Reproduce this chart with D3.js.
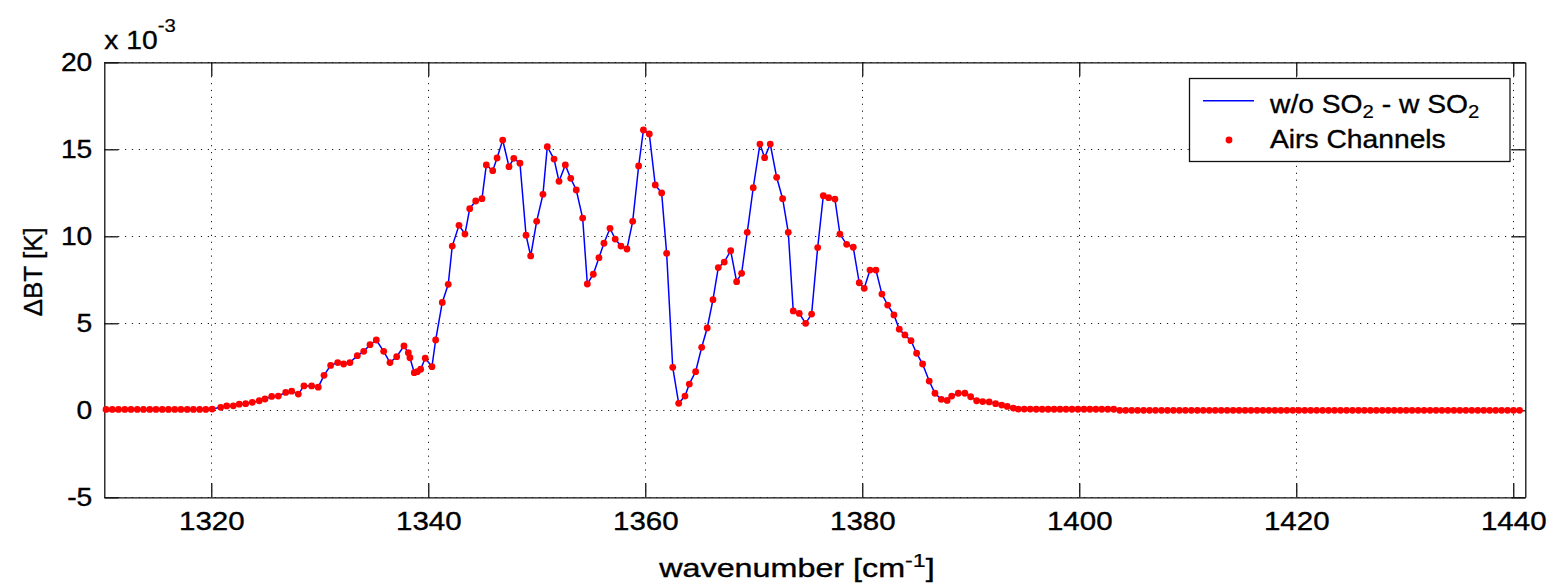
<!DOCTYPE html>
<html><head><meta charset="utf-8">
<script src="https://cdn.jsdelivr.net/npm/d3@7"></script>
<style>
body{margin:0;background:#fff;}
text{font-family:"Liberation Sans",Arial,Helvetica,sans-serif;fill:#000;stroke:#000;stroke-width:0.35px;}
</style>
</head><body>
<svg id="chart" width="1547" height="585"></svg>
<script>
// AIRS channel wavenumbers [cm^-1]
const wavenumbers = [
  1310.30,1310.88,1311.45,1312.03,1312.60,1313.18,1313.75,1314.33,1314.90,1315.48,
  1316.05,1316.63,1317.20,1317.78,1318.35,1318.93,1319.50,1320.08,
  1320.87,1321.42,1322.03,1322.58,1323.17,1323.78,1324.42,1324.95,1325.57,1326.18,
  1326.86,1327.41,1328.02,
  1328.54,1329.25,1329.86,1330.39,1331.00,1331.65,1332.20,1332.78,1333.46,1334.05,
  1334.63,1335.21,1335.89,1336.47,1337.09,1337.76,1338.16,1338.31,1338.71,1338.99,
  1339.30,1339.72,1340.34,1340.68,1341.29,1341.84,1342.21,1342.83,1343.38,1343.82,
  1344.37,1344.95,1345.35,1345.94,1346.34,1346.86,1347.44,1347.88,1348.45,1349.01,
  1349.44,1349.99,1350.57,1350.97,1351.59,1352.05,1352.63,1353.13,1353.64,1354.23,
  1354.66,1355.21,1355.73,1356.19,1356.75,1357.23,1357.76,1358.31,1358.84,1359.39,
  1359.83,1360.37,1360.92,1361.51,1361.97,1362.53,1363.08,1363.66,1364.06,1364.64,
  1365.20,1365.71,1366.24,1366.73,1367.28,1367.87,1368.42,1368.88,1369.40,1369.95,
  1370.57,1371.00,1371.52,1372.11,1372.66,1373.18,1373.64,1374.19,1374.78,1375.33,
  1375.89,1376.41,1376.90,1377.48,1377.94,1378.56,1379.17,1379.72,1380.18,1380.71,
  1381.26,1381.81,1382.34,1382.92,1383.41,1383.93,1384.49,1385.01,1385.56,1386.17,
  1386.70,1387.28,1387.82,1388.24,1388.85,1389.46,1389.99,1390.54,1391.10,1391.70,
  1392.29,1392.85,1393.36,1393.92,1394.38,
  1394.93,1395.48,1396.03,1396.58,1397.13,1397.68,1398.23,1398.78,1399.33,1399.88,
  1400.43,1400.98,1401.53,1402.08,1402.63,1403.18,
  1403.73,1404.28,1404.83,1405.38,1405.93,1406.48,1407.03,1407.58,1408.13,1408.68,
  1409.23,1409.78,1410.33,1410.88,1411.43,1411.98,1412.53,1413.08,1413.63,1414.18,
  1414.73,1415.28,1415.83,1416.38,1416.93,1417.48,1418.03,1418.58,1419.13,1419.68,
  1420.23,1420.78,1421.33,1421.88,1422.43,1422.98,1423.53,1424.08,1424.63,1425.18,
  1425.73,1426.28,1426.83,1427.38,1427.93,1428.48,1429.03,1429.58,1430.13,1430.68,
  1431.23,1431.78,1432.33,1432.88,1433.43,1433.98,1434.53,1435.08,1435.63,1436.18,
  1436.73,1437.28,1437.83,1438.38,1438.93,1439.48,1440.03,1440.58
];
// w/o SO2 - w SO2 brightness temperature difference [x 10^-3 K]
const deltaBT = [
  0.05,0.05,0.05,0.05,0.05,0.05,0.05,0.05,0.05,0.05,
  0.05,0.05,0.05,0.05,0.05,0.05,0.05,0.07,
  0.17,0.25,0.26,0.35,0.38,0.46,0.55,0.65,0.80,0.82,
  1.03,1.10,0.93,
  1.40,1.40,1.33,2.01,2.58,2.74,2.66,2.74,3.14,3.39,
  3.77,4.04,3.39,2.74,3.08,3.70,3.31,3.02,2.16,2.22,
  2.36,2.99,2.51,4.04,6.20,7.24,9.44,10.63,10.13,11.59,
  12.03,12.16,14.10,13.77,14.50,15.53,14.00,14.48,14.20,10.06,
  8.87,10.86,12.41,15.15,14.44,13.16,14.10,13.33,12.66,11.05,
  7.26,7.82,8.77,9.60,10.46,9.84,9.44,9.27,10.86,14.04,
  16.11,15.88,12.95,12.49,9.02,2.47,0.40,0.82,1.51,2.22,
  3.62,4.73,6.36,8.20,8.52,9.17,7.39,7.87,10.23,12.79,
  15.30,14.52,15.30,13.39,12.16,10.23,5.71,5.57,5.00,5.53,
  9.35,12.33,12.22,12.14,10.13,9.54,9.37,7.33,7.01,8.06,
  8.06,6.68,6.05,5.48,4.66,4.33,4.00,3.28,2.66,1.68,
  0.98,0.63,0.57,0.82,0.98,0.98,0.78,0.55,0.50,0.48,
  0.38,0.30,0.22,0.13,0.07,
  0.07,0.07,0.06,0.06,0.06,0.06,0.06,0.06,0.06,0.06,
  0.06,0.06,0.06,0.06,0.06,0.06,
  0.00,0.00,0.00,0.00,0.00,0.00,0.00,0.00,0.00,0.00,
  0.00,0.00,0.00,0.00,0.00,0.00,0.00,0.00,0.00,0.00,
  0.00,0.00,0.00,0.00,0.00,0.00,0.00,0.00,0.00,0.00,
  0.00,0.00,0.00,0.00,0.00,0.00,0.00,0.00,0.00,0.00,
  0.00,0.00,0.00,0.00,0.00,0.00,0.00,0.00,0.00,0.00,
  0.00,0.00,0.00,0.00,0.00,0.00,0.00,0.00,0.00,0.00,
  0.00,0.00,0.00,0.00,0.00,0.00,0.00,0.00
];
const xTicks = [1320,1340,1360,1380,1400,1420,1440];
const yTicks = [-5,0,5,10,15,20];
const xDomain = [1310.14, 1441.11];
const yDomain = [-5, 20];

const plot = {left:104.3, top:62.3, right:1525.3, bottom:497.3};
const FS = 25, SX = 1.13;

const svg = d3.select("#chart");
const x = d3.scaleLinear().domain(xDomain).range([plot.left, plot.right]);
const y = d3.scaleLinear().domain(yDomain).range([plot.bottom, plot.top]);

const data = wavenumbers.map((w,i)=>({w, v: deltaBT[i]})).filter(d=>d.v!==undefined);
const fmt = d => String(d);

// horizontal stretch about an anchor x
function stretch(sel, sx, ax){
  sel.attr("transform", `translate(${ax*(1-sx)},0) scale(${sx},1)`);
}

// grid
const grid = svg.append("g").attr("stroke","#000").attr("stroke-width",1)
  .attr("stroke-dasharray","1.2,5.7").attr("opacity",0.9);
grid.selectAll(".gx").data(xTicks).join("line")
  .attr("x1",d=>Math.round(x(d))+0.5).attr("x2",d=>Math.round(x(d))+0.5)
  .attr("y1",plot.top).attr("y2",plot.bottom);
grid.selectAll(".gy").data(yTicks).join("line")
  .attr("y1",d=>Math.round(y(d))+0.5).attr("y2",d=>Math.round(y(d))+0.5)
  .attr("x1",plot.left).attr("x2",plot.right);

// axes
const TL = 14;
function styleAxis(g){
  g.selectAll("path.domain").attr("stroke","#111").attr("stroke-width",1.3).attr("fill","none");
  g.selectAll(".tick line").attr("stroke","#111").attr("stroke-width",1.3);
  g.selectAll(".tick text").attr("font-size",FS).attr("fill","#000")
    .attr("font-family","'Liberation Sans',Arial,Helvetica,sans-serif");
}
svg.append("g").attr("transform",`translate(0,${plot.bottom})`)
  .call(d3.axisBottom(x).tickValues(xTicks).tickSizeInner(-TL).tickSizeOuter(0).tickPadding(15).tickFormat(fmt))
  .call(styleAxis)
  .call(g=>g.selectAll(".tick text").each(function(){ stretch(d3.select(this), 1.18, 0); }));
svg.append("g").attr("transform",`translate(0,${plot.top})`)
  .call(d3.axisTop(x).tickValues(xTicks).tickSizeInner(-TL).tickSizeOuter(0).tickFormat(""))
  .call(styleAxis);
svg.append("g").attr("transform",`translate(${plot.left},0)`)
  .call(d3.axisLeft(y).tickValues(yTicks).tickSizeInner(-TL).tickSizeOuter(0).tickPadding(12).tickFormat(fmt))
  .call(styleAxis)
  .call(g=>g.selectAll(".tick text").each(function(){ stretch(d3.select(this), 1.13, -12); }));
svg.append("g").attr("transform",`translate(${plot.right},0)`)
  .call(d3.axisRight(y).tickValues(yTicks).tickSizeInner(-TL).tickSizeOuter(0).tickFormat(""))
  .call(styleAxis);

// series
const line = d3.line().x(d=>x(d.w)).y(d=>y(d.v));
svg.append("path").datum(data).attr("fill","none").attr("stroke","#0000ff")
  .attr("stroke-width",1.5).attr("d",line);
svg.append("g").selectAll("circle").data(data).join("circle")
  .attr("cx",d=>x(d.w)).attr("cy",d=>y(d.v)).attr("r",3.4).attr("fill","#ff0000");

// exponent label
const ex = svg.append("text").attr("x",plot.left).attr("y",49).attr("font-size",FS);
ex.append("tspan").text("x 10");
ex.append("tspan").attr("font-size",18).attr("dy",-17).attr("stroke-width",0.2).text("-3");
stretch(ex, SX, plot.left);

// x label (fit to reference width)
const xlCx = 797, xlW = 277;
const xl = svg.append("text").attr("x",xlCx).attr("y",577)
  .attr("text-anchor","middle").attr("font-size",FS);
xl.append("tspan").text("wavenumber [cm");
xl.append("tspan").attr("font-size",18).attr("dy",-10).attr("stroke-width",0.2).text("-1");
xl.append("tspan").attr("dy",10).text("]");
const xlBox = xl.node().getBBox();
stretch(xl, xlW / xlBox.width, xlCx);

// y label
svg.append("text").attr("transform",`translate(42,${(plot.top+plot.bottom)/2 - 8}) rotate(-90)`)
  .attr("text-anchor","middle").attr("font-size",26).text("ΔBT [K]");

// legend
const lg = svg.append("g");
lg.append("rect").attr("x",1189.5).attr("y",78.5).attr("width",320.5).attr("height",83)
  .attr("fill","#fff").attr("stroke","#111").attr("stroke-width",1.3);
lg.append("line").attr("x1",1203).attr("x2",1254).attr("y1",100.7).attr("y2",100.7)
  .attr("stroke","#0000ff").attr("stroke-width",1.5);
const t1 = lg.append("text").attr("x",1270).attr("y",113).attr("font-size",FS);
t1.append("tspan").text("w/o SO");
t1.append("tspan").attr("font-size",18).attr("dy",5).attr("stroke-width",0.2).text("2");
t1.append("tspan").attr("dy",-5).text(" - w SO");
t1.append("tspan").attr("font-size",18).attr("dy",5).attr("stroke-width",0.2).text("2");
stretch(t1, SX, 1270);
lg.append("circle").attr("cx",1229).attr("cy",140).attr("r",3.4).attr("fill","#ff0000");
const t2 = lg.append("text").attr("x",1270).attr("y",148.5).attr("font-size",FS).text("Airs Channels");
stretch(t2, SX, 1270);
</script>
</body></html>
